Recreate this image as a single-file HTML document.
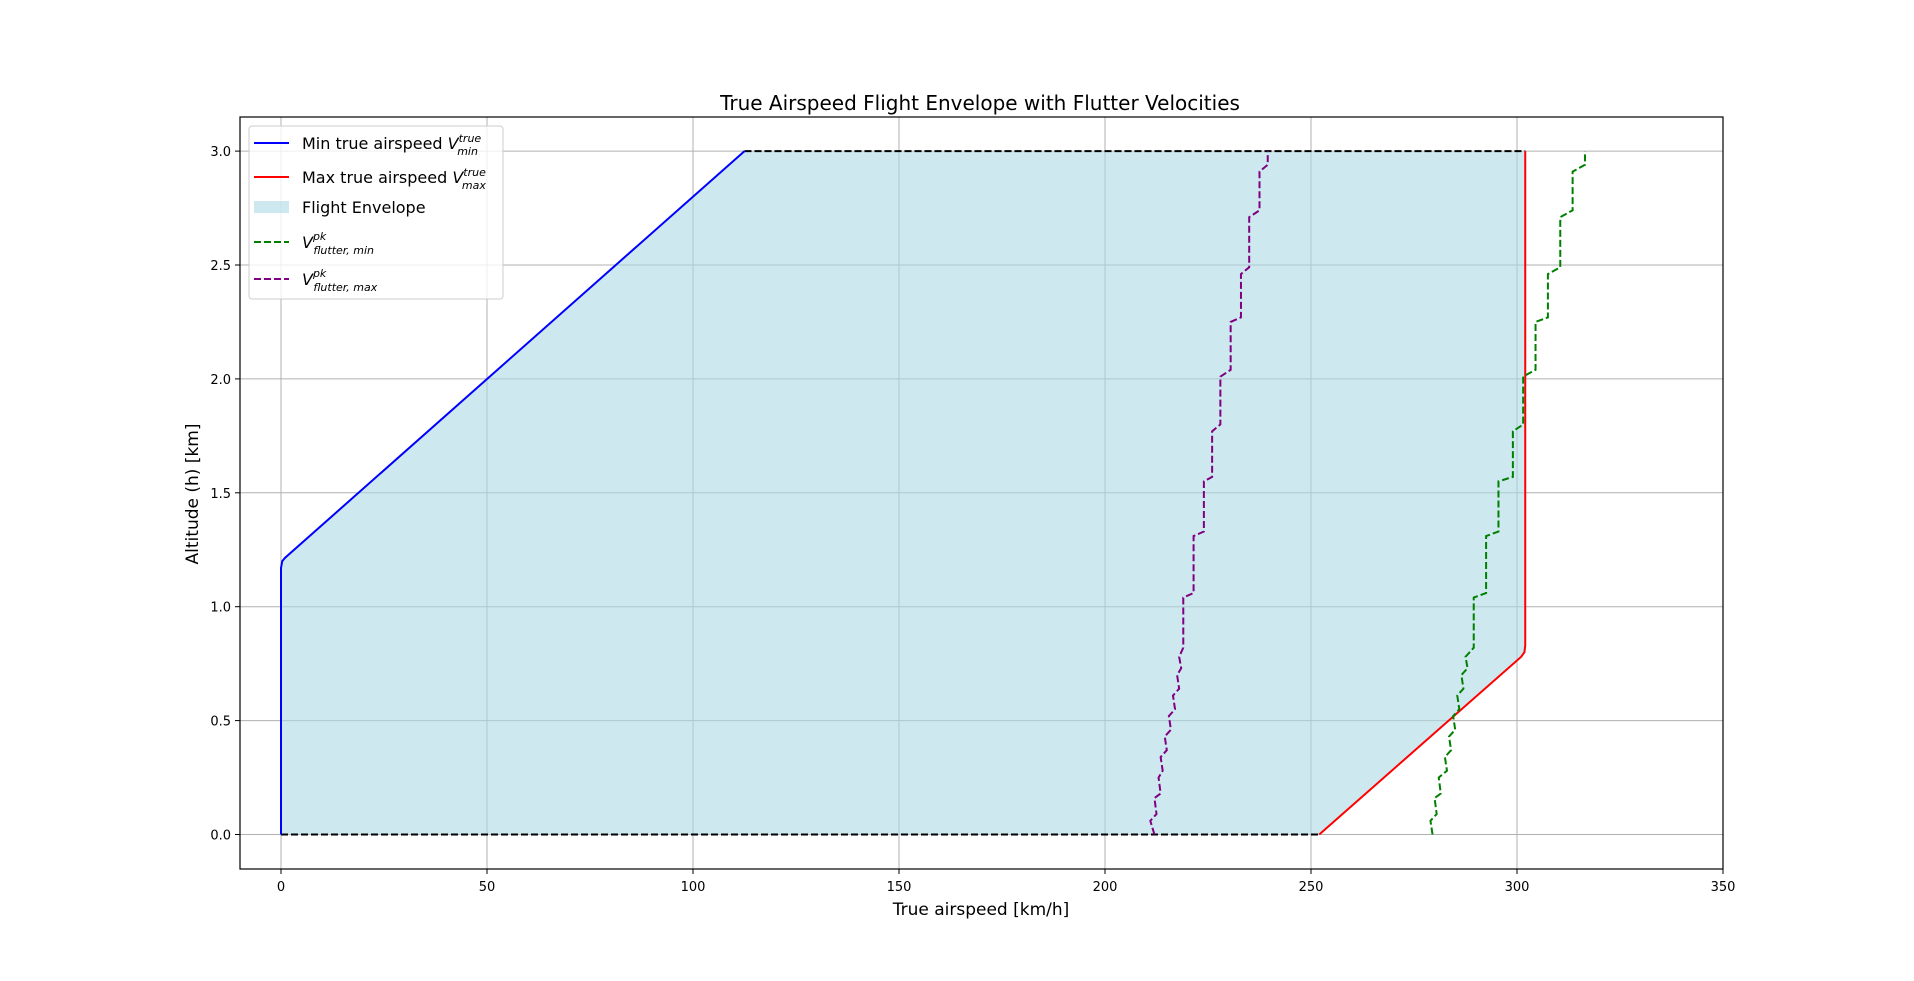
<!DOCTYPE html>
<html><head><meta charset="utf-8"><style>
body{margin:0;background:#fff;}
svg text{font-family:"DejaVu Sans","Liberation Sans",sans-serif;}
</style></head><body>
<svg id="chart" width="1914" height="976" xmlns="http://www.w3.org/2000/svg">
<rect width="1914" height="976" fill="#fff"/>
<g id="grid"></g>
<g id="plot"></g>
<rect x="240" y="117" width="1483" height="752" fill="none" stroke="#000" stroke-width="1.2"/>
<g id="ticks"></g>
<text x="980" y="110" font-size="20" text-anchor="middle">True Airspeed Flight Envelope with Flutter Velocities</text>
<text x="981" y="915" font-size="17" text-anchor="middle">True airspeed [km/h]</text>
<text transform="translate(198,494) rotate(-90)" font-size="17" text-anchor="middle">Altitude (h) [km]</text>
<g>
<rect x="249" y="126" width="254" height="173" rx="3" fill="#fff" fill-opacity="0.8" stroke="#ccc"/>
<g><line x1="254" y1="143" x2="289" y2="143" stroke="#0000ff" stroke-width="2"/><text x="302" y="149" font-size="16">Min true airspeed <tspan font-style="italic">V</tspan><tspan font-size="11" font-style="italic" dy="-7">true</tspan><tspan font-size="11" font-style="italic" dx="-24" dy="13">min</tspan></text></g>
<g><line x1="254" y1="177" x2="289" y2="177" stroke="#ff0000" stroke-width="2"/><text x="302" y="183" font-size="16">Max true airspeed <tspan font-style="italic">V</tspan><tspan font-size="11" font-style="italic" dy="-7">true</tspan><tspan font-size="11" font-style="italic" dx="-24" dy="13">max</tspan></text></g>
<g><rect x="254" y="201" width="35" height="12" fill="#add8e6" fill-opacity="0.6"/><text x="302" y="213" font-size="16">Flight Envelope</text></g>
<g><line x1="254" y1="242" x2="289" y2="242" stroke="#008000" stroke-width="2" stroke-dasharray="7,3"/><text x="302" y="248" font-size="16" font-style="italic">V<tspan font-size="11" dy="-8">pk</tspan><tspan font-size="11" dx="-13" dy="14">flutter, min</tspan></text></g>
<g><line x1="254" y1="279" x2="289" y2="279" stroke="#800080" stroke-width="2" stroke-dasharray="7,3"/><text x="302" y="285" font-size="16" font-style="italic">V<tspan font-size="11" dy="-8">pk</tspan><tspan font-size="11" dx="-13" dy="14">flutter, max</tspan></text></g>
</g>
</svg>
<script>
const xTicks=[0,50,100,150,200,250,300,350];
const yTicks=[0,0.5,1.0,1.5,2.0,2.5,3.0];
const minX=[0,0,0.3,1,112.5];
const minY=[0,1.17,1.2,1.215,3.0];
const maxX=[252,301,301.8,302,302];
const maxY=[0,0.78,0.8,0.83,3.0];
const flutMinX=[279.5,279,280.5,280,281.5,281,283,282.5,284,283.5,285,284.5,286,285.5,287,286.5,288,287.5,289.5,289.5,292.5,292.5,295.5,295.5,299,299,301.5,301.5,304.5,304.5,307.5,307.5,310.5,310.5,313.5,313.5,316.5,316.5];
const flutMinY=[0,0.06,0.09,0.16,0.18,0.25,0.28,0.34,0.37,0.43,0.46,0.52,0.55,0.61,0.64,0.70,0.73,0.78,0.82,1.04,1.06,1.31,1.33,1.55,1.57,1.77,1.80,2.01,2.04,2.25,2.27,2.46,2.49,2.71,2.74,2.91,2.94,3.0];
const flutMaxX=[212,211,212.5,212,213.5,213,214,213.5,215,214.5,216,215.5,217,216.5,218,217.5,218.5,218,219,219,221.5,221.5,224,224,226,226,228,228,230.5,230.5,233,233,235,235,237.5,237.5,239.5,239.5];
const flutMaxY=flutMinY.slice();
const X=v=>281+(v)*4.12;
const Y=v=>834.5-v*227.8;
const NS="http://www.w3.org/2000/svg";
function mk(t,a,p){const e=document.createElementNS(NS,t);for(const k in a)e.setAttribute(k,a[k]);p.appendChild(e);return e;}
const grid=document.getElementById('grid'),plot=document.getElementById('plot'),ticks=document.getElementById('ticks');
xTicks.forEach(t=>{
 const g=mk('line',{x1:X(t),x2:X(t),y1:117,y2:869,stroke:'#b0b0b0','stroke-width':1},grid);
 
 
 mk('line',{x1:X(t),x2:X(t),y1:869,y2:874,stroke:'#000'},ticks);
 const tx=mk('text',{x:X(t),y:891,'font-size':13,'text-anchor':'middle'},ticks);tx.textContent=t;
 
 
});
yTicks.forEach(t=>{
 const g=mk('line',{x1:240,x2:1723,y1:Y(t),y2:Y(t),stroke:'#b0b0b0','stroke-width':1},grid);
 
 
 mk('line',{x1:235,x2:240,y1:Y(t),y2:Y(t),stroke:'#000'},ticks);
 const tx=mk('text',{x:231,y:Y(t)+5,'font-size':13,'text-anchor':'end'},ticks);tx.textContent=t.toFixed(1);
 
 
});
const pts=(xs,ys)=>xs.map((x,i)=>X(x)+','+Y(ys[i])).join(' ');
let env=pts(minX,minY)+' '+pts(maxX.slice().reverse(),maxY.slice().reverse());
const f=mk('polygon',{points:env,fill:'#add8e6','fill-opacity':0.6},plot);


const b1=mk('line',{x1:X(minX[0]),x2:X(maxX[0]),y1:Y(0),y2:Y(0),stroke:'#000','stroke-width':2,'stroke-dasharray':'7,3'},plot);


const b2=mk('line',{x1:X(minX[minX.length-1]),x2:X(maxX[maxX.length-1]),y1:Y(3),y2:Y(3),stroke:'#000','stroke-width':2,'stroke-dasharray':'7,3'},plot);


const l1=mk('polyline',{points:pts(minX,minY),fill:'none',stroke:'#0000ff','stroke-width':2},plot);


const l2=mk('polyline',{points:pts(maxX,maxY),fill:'none',stroke:'#ff0000','stroke-width':2},plot);


const l3=mk('polyline',{points:pts(flutMinX,flutMinY),fill:'none',stroke:'#008000','stroke-width':2,'stroke-dasharray':'7,3'},plot);


const l4=mk('polyline',{points:pts(flutMaxX,flutMaxY),fill:'none',stroke:'#800080','stroke-width':2,'stroke-dasharray':'7,3'},plot);


</script>
</body></html>
